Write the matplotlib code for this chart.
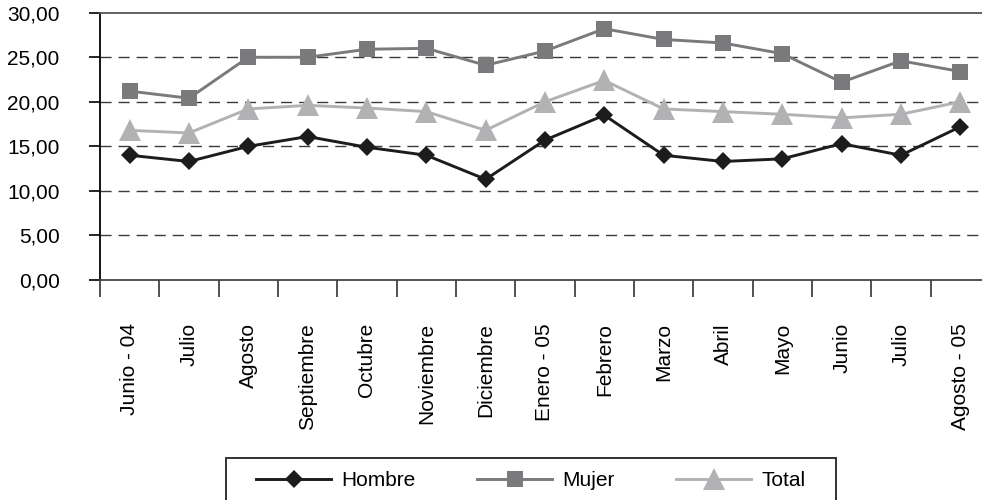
import matplotlib
matplotlib.use("Agg")
import matplotlib.pyplot as plt
from matplotlib.patches import Rectangle
from matplotlib.ticker import FixedLocator, FuncFormatter

plt.rcParams['font.family'] = ['Liberation Sans', 'DejaVu Sans']

# meses (jun-04 a ago-05)
meses = ['Junio - 04', 'Julio', 'Agosto', 'Septiembre', 'Octubre', 'Noviembre',
         'Diciembre', 'Enero - 05', 'Febrero', 'Marzo', 'Abril', 'Mayo',
         'Junio', 'Julio', 'Agosto - 05']
hombre = [14.0, 13.3, 15.0, 16.1, 14.9, 14.0, 11.3, 15.7, 18.5, 14.0, 13.3, 13.6, 15.3, 14.0, 17.2]
mujer = [21.2, 20.4, 25.0, 25.0, 25.9, 26.0, 24.1, 25.7, 28.2, 27.0, 26.6, 25.4, 22.2, 24.6, 23.4]
total = [16.8, 16.5, 19.2, 19.6, 19.3, 18.9, 16.8, 20.0, 22.4, 19.2, 18.9, 18.6, 18.2, 18.6, 20.0]
yticks = [0, 5, 10, 15, 20, 25, 30]

fs = 15
fig = plt.figure(figsize=(9.82, 5.0), dpi=100)
ax = fig.add_axes([0.1018, 0.44, 0.9063, 0.5346])

x = list(range(len(meses)))
ax.plot(x, hombre, color='#1c1c1c', lw=2.1, marker='D', ms=9, mew=0,
        label='Hombre', zorder=5)
ax.plot(x, mujer, color='#7a7a7c', lw=2.1, marker='s', ms=11.5, mew=0,
        label='Mujer', zorder=4)
ax.plot(x, total, color='#b2b2b4', lw=2.1, marker='^', ms=16, mew=0,
        label='Total', zorder=3)

ax.set_xlim(-0.5, len(meses) - 0.5)
ax.set_ylim(0, 30)

# etiquetas y ejes
ax.set_yticks(yticks)
ax.yaxis.set_major_formatter(FuncFormatter(lambda v, p: f'{v:.2f}'.replace('.', ',')))
ax.tick_params(axis='y', direction='out', length=8, width=1.2, pad=21,
               labelsize=fs, colors='black')
ax.set_xticks(x)
ax.set_xticklabels(meses, rotation=90, fontsize=fs, va='top', ha='center')
ax.xaxis.set_minor_locator(FixedLocator([i - 0.5 for i in range(len(meses) + 1)]))
ax.tick_params(axis='x', which='major', length=0, pad=31)
ax.tick_params(axis='x', which='minor', direction='out', length=12, width=1.2,
               color='#333333')

for y in yticks[1:-1]:
    ax.axhline(y, color='#3a3a3a', lw=1.0, ls=(0, (8, 5)), zorder=1)

ax.spines['left'].set_color('black')
ax.spines['left'].set_linewidth(1.3)
ax.spines['bottom'].set_color('#444444')
ax.spines['bottom'].set_linewidth(1.3)
ax.spines['top'].set_color('#555555')
ax.spines['top'].set_linewidth(1.3)
ax.spines['right'].set_visible(False)

# leyenda con recuadro propio
leg = fig.legend(loc='center', bbox_to_anchor=(531 / 982, 1 - 481 / 500),
                 ncol=3, frameon=False, fontsize=fs, handlelength=3.6,
                 handletextpad=0.5, columnspacing=2.95)
fig.patches.append(Rectangle((226 / 982, -0.05), 610 / 982, 0.05 + 42 / 500,
                             transform=fig.transFigure, fill=False,
                             edgecolor='#222222', lw=1.3))

fig.savefig('out.png', dpi=100)
